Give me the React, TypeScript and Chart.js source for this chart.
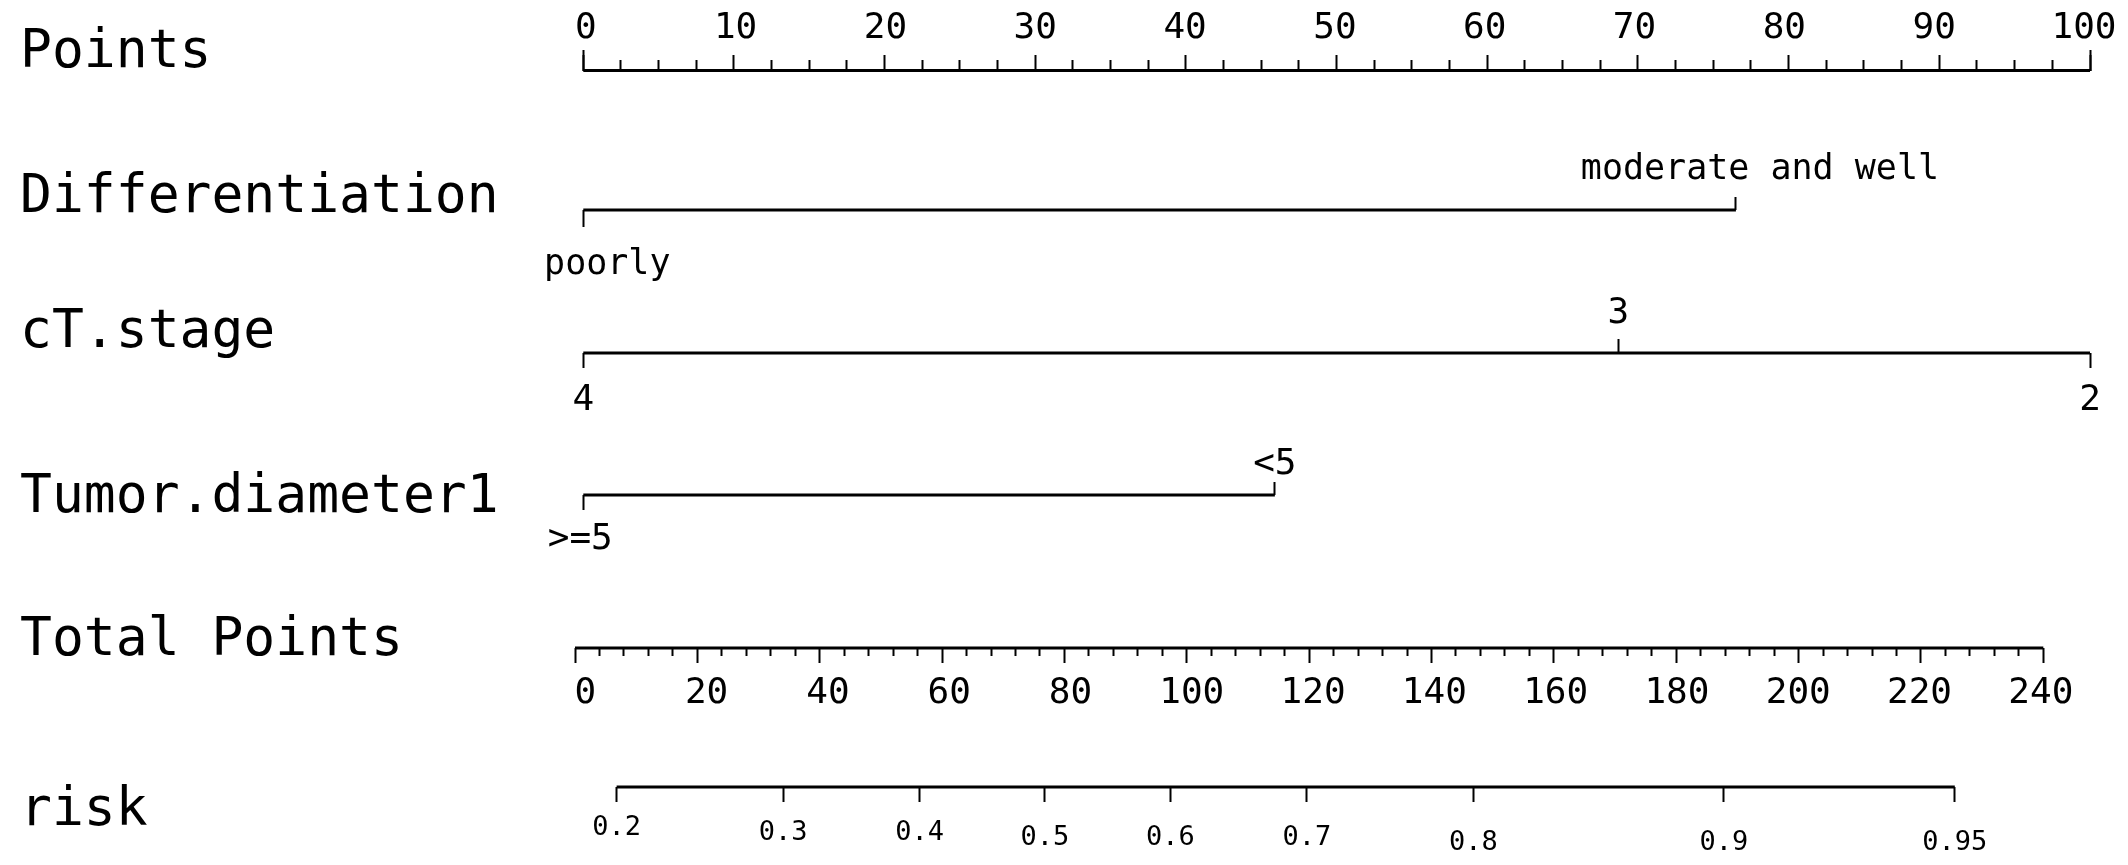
import React, { useEffect, useRef } from "react";
import { Chart, registerables } from "chart.js";

Chart.register(...registerables);

// ---------- data ----------
const ROW_NAMES = ["Points", "Differentiation", "cT.stage", "Tumor.diameter1", "Total Points", "risk"];

const POINT_TICKS = [0, 10, 20, 30, 40, 50, 60, 70, 80, 90, 100];
const POINT_MINOR_STEP = 2.5;

const DIFF_LEVELS = ["poorly", "moderate and well"];
const DIFF_POINTS = [0, 76.5];

const CT_LEVELS = ["4", "3", "2"];
const CT_POINTS = [0, 68.7, 100];

const TUMOR_LEVELS = [">=5", "<5"];
const TUMOR_POINTS = [0, 45.9];

const TOTAL_TICKS = [0, 20, 40, 60, 80, 100, 120, 140, 160, 180, 200, 220, 240];
const TOTAL_MINOR_STEP = 4;

const RISK_TICKS = [0.2, 0.3, 0.4, 0.5, 0.6, 0.7, 0.8, 0.9, 0.95];
const RISK_LABELS = ["0.2", "0.3", "0.4", "0.5", "0.6", "0.7", "0.8", "0.9", "0.95"];

// ---------- layout ----------
const ROW_LINE_Y = [70.5, 210, 353, 495, 648, 787];
const ROW_NAME_Y = [53.5, 198.5, 333, 498, 641.5, 811.5];
const POINTS_RANGE = [-0.55, 100];
const POINTS_LABEL_RANGE = [-0.721, 100.4];
const TOTAL_RANGE = [0, 247.63];
const TOTAL_LABEL_RANGE = [-1.7, 248.11];
const RISK_LOGIT_RANGE = [-1.521, 3.382];
const RISK_LABEL_TIER = [0, 1, 1, 2, 2, 2, 3, 3, 3];
const RISK_TIER_PAD = [9.5, 14.5, 19.5, 24.5];

const FONT = "'DejaVu Sans Mono', monospace";
const BLACK = "#000";

const logit = (p: number) => Math.log(p / (1 - p));

function minorTicks(majors: number[], step: number) {
  const out: number[] = [];
  const lo = majors[0];
  const hi = majors[majors.length - 1];
  for (let v = lo; v <= hi + 1e-9; v += step) {
    const r = Math.round(v * 1000) / 1000;
    if (!majors.includes(r)) out.push(r);
  }
  return out;
}

function xAxis(o: {
  y: number;
  values: number[];
  labels?: string[];
  tl?: number;
  pad?: number;
  size?: number;
  range: number[];
  shift?: number;
}) {
  const { y, values, labels, tl = 0, pad = 0, size = 36, range, shift = 0 } = o;
  return {
    type: "linear",
    axis: "x",
    position: { y },
    min: range[0],
    max: range[1],
    bounds: "data",
    display: true,
    afterBuildTicks: (s: any) => {
      s.ticks = values.map((v) => ({ value: v }));
    },
    border: { display: false },
    grid: {
      display: true,
      drawOnChartArea: false,
      drawTicks: tl !== 0,
      tickLength: tl,
      tickWidth: 2,
      tickColor: BLACK,
      offset: false,
    },
    ticks: {
      display: !!labels,
      autoSkip: false,
      maxRotation: 0,
      minRotation: 0,
      padding: pad,
      labelOffset: shift,
      color: BLACK,
      font: { family: FONT, size },
      callback: (_v: any, i: number) => (labels ? labels[i] : ""),
    },
  };
}

const even = <T,>(a: T[]) => a.filter((_, i) => i % 2 === 0);
const odd = <T,>(a: T[]) => a.filter((_, i) => i % 2 === 1);

function lineDataset(xAxisID: string, values: number[], y: number) {
  return {
    data: [
      { x: Math.min(...values), y },
      { x: Math.max(...values), y },
    ],
    xAxisID,
    yAxisID: "y",
    showLine: true,
    borderColor: BLACK,
    borderWidth: 3,
    pointRadius: 0,
    clip: false,
  };
}

export default function App() {
  const ref = useRef<HTMLCanvasElement>(null);

  useEffect(() => {
    const [yPts, yDiff, yCt, yTum, yTot, yRisk] = ROW_LINE_Y;
    const P0 = POINT_TICKS[0];
    const P1 = POINT_TICKS[POINT_TICKS.length - 1];
    const riskVals = RISK_TICKS.map(logit);

    const scales: any = {
      y: {
        type: "linear",
        position: "left",
        reverse: true,
        min: 45,
        max: 820,
        bounds: "data",
        afterBuildTicks: (s: any) => {
          s.ticks = ROW_NAME_Y.map((v) => ({ value: v }));
        },
        afterFit: (s: any) => {
          s.width = 555;
        },
        grid: { display: false },
        border: { display: false },
        ticks: {
          autoSkip: false,
          crossAlign: "far",
          color: BLACK,
          font: { family: FONT, size: 53 },
          callback: (_v: any, i: number) => ROW_NAMES[i],
        },
      },
      pts: xAxis({ y: yPts, values: POINT_TICKS, tl: -16, range: POINTS_RANGE }),
      ptsLabels: xAxis({ y: yPts, values: POINT_TICKS, labels: POINT_TICKS.map(String), pad: -63, range: POINTS_LABEL_RANGE }),
      ptsEnd: xAxis({ y: yPts, values: [P0, P1], tl: -21, range: POINTS_RANGE }),
      ptsMinor: xAxis({ y: yPts, values: minorTicks(POINT_TICKS, POINT_MINOR_STEP), tl: -11, range: POINTS_RANGE }),

      diffDown: xAxis({ y: yDiff, values: even(DIFF_POINTS), labels: even(DIFF_LEVELS), tl: 17, pad: 17, size: 35, range: POINTS_RANGE, shift: 24 }),
      diffUp: xAxis({ y: yDiff, values: odd(DIFF_POINTS), labels: odd(DIFF_LEVELS), tl: -13, pad: -48.4, size: 35, range: POINTS_RANGE, shift: 24 }),

      ctDown: xAxis({ y: yCt, values: even(CT_POINTS), labels: even(CT_LEVELS), tl: 15, pad: 11, range: POINTS_RANGE }),
      ctUp: xAxis({ y: yCt, values: odd(CT_POINTS), labels: odd(CT_LEVELS), tl: -14, pad: -46.7, range: POINTS_RANGE }),

      tumDown: xAxis({ y: yTum, values: even(TUMOR_POINTS), labels: even(TUMOR_LEVELS), tl: 15, pad: 7.6, range: POINTS_RANGE, shift: -3 }),
      tumUp: xAxis({ y: yTum, values: odd(TUMOR_POINTS), labels: odd(TUMOR_LEVELS), tl: -13, pad: -39.4, range: POINTS_RANGE }),

      tot: xAxis({ y: yTot, values: TOTAL_TICKS, tl: 15, range: TOTAL_RANGE }),
      totLabels: xAxis({ y: yTot, values: TOTAL_TICKS, labels: TOTAL_TICKS.map(String), pad: 23.6, range: TOTAL_LABEL_RANGE }),
      totMinor: xAxis({ y: yTot, values: minorTicks(TOTAL_TICKS, TOTAL_MINOR_STEP), tl: 8, range: TOTAL_RANGE }),
    };

    RISK_TIER_PAD.forEach((pad, tier) => {
      const idx = RISK_LABEL_TIER.map((t, i) => (t === tier ? i : -1)).filter((i) => i >= 0);
      scales["risk" + tier] = xAxis({
        y: yRisk,
        values: idx.map((i) => riskVals[i]),
        labels: idx.map((i) => RISK_LABELS[i]),
        tl: 15,
        pad,
        size: 27,
        range: RISK_LOGIT_RANGE,
      });
    });

    const datasets = [
      lineDataset("pts", POINT_TICKS, yPts),
      lineDataset("diffDown", DIFF_POINTS, yDiff),
      lineDataset("ctDown", CT_POINTS, yCt),
      lineDataset("tumDown", TUMOR_POINTS, yTum),
      lineDataset("tot", TOTAL_TICKS, yTot),
      lineDataset("risk0", riskVals, yRisk),
    ];

    const chart = new Chart(ref.current as HTMLCanvasElement, {
      type: "scatter",
      data: { datasets: datasets as any },
      options: {
        animation: false,
        responsive: true,
        maintainAspectRatio: false,
        devicePixelRatio: 1,
        events: [],
        layout: { padding: { left: 20, right: 38, top: 45, bottom: 45 } },
        plugins: { legend: { display: false }, tooltip: { enabled: false }, title: { display: false } },
        scales,
      } as any,
    });
    return () => chart.destroy();
  }, []);

  return (
    <div style={{ position: "fixed", left: 0, top: 0, width: 2128, height: 865, background: "#fff" }}>
      <canvas ref={ref} />
    </div>
  );
}
